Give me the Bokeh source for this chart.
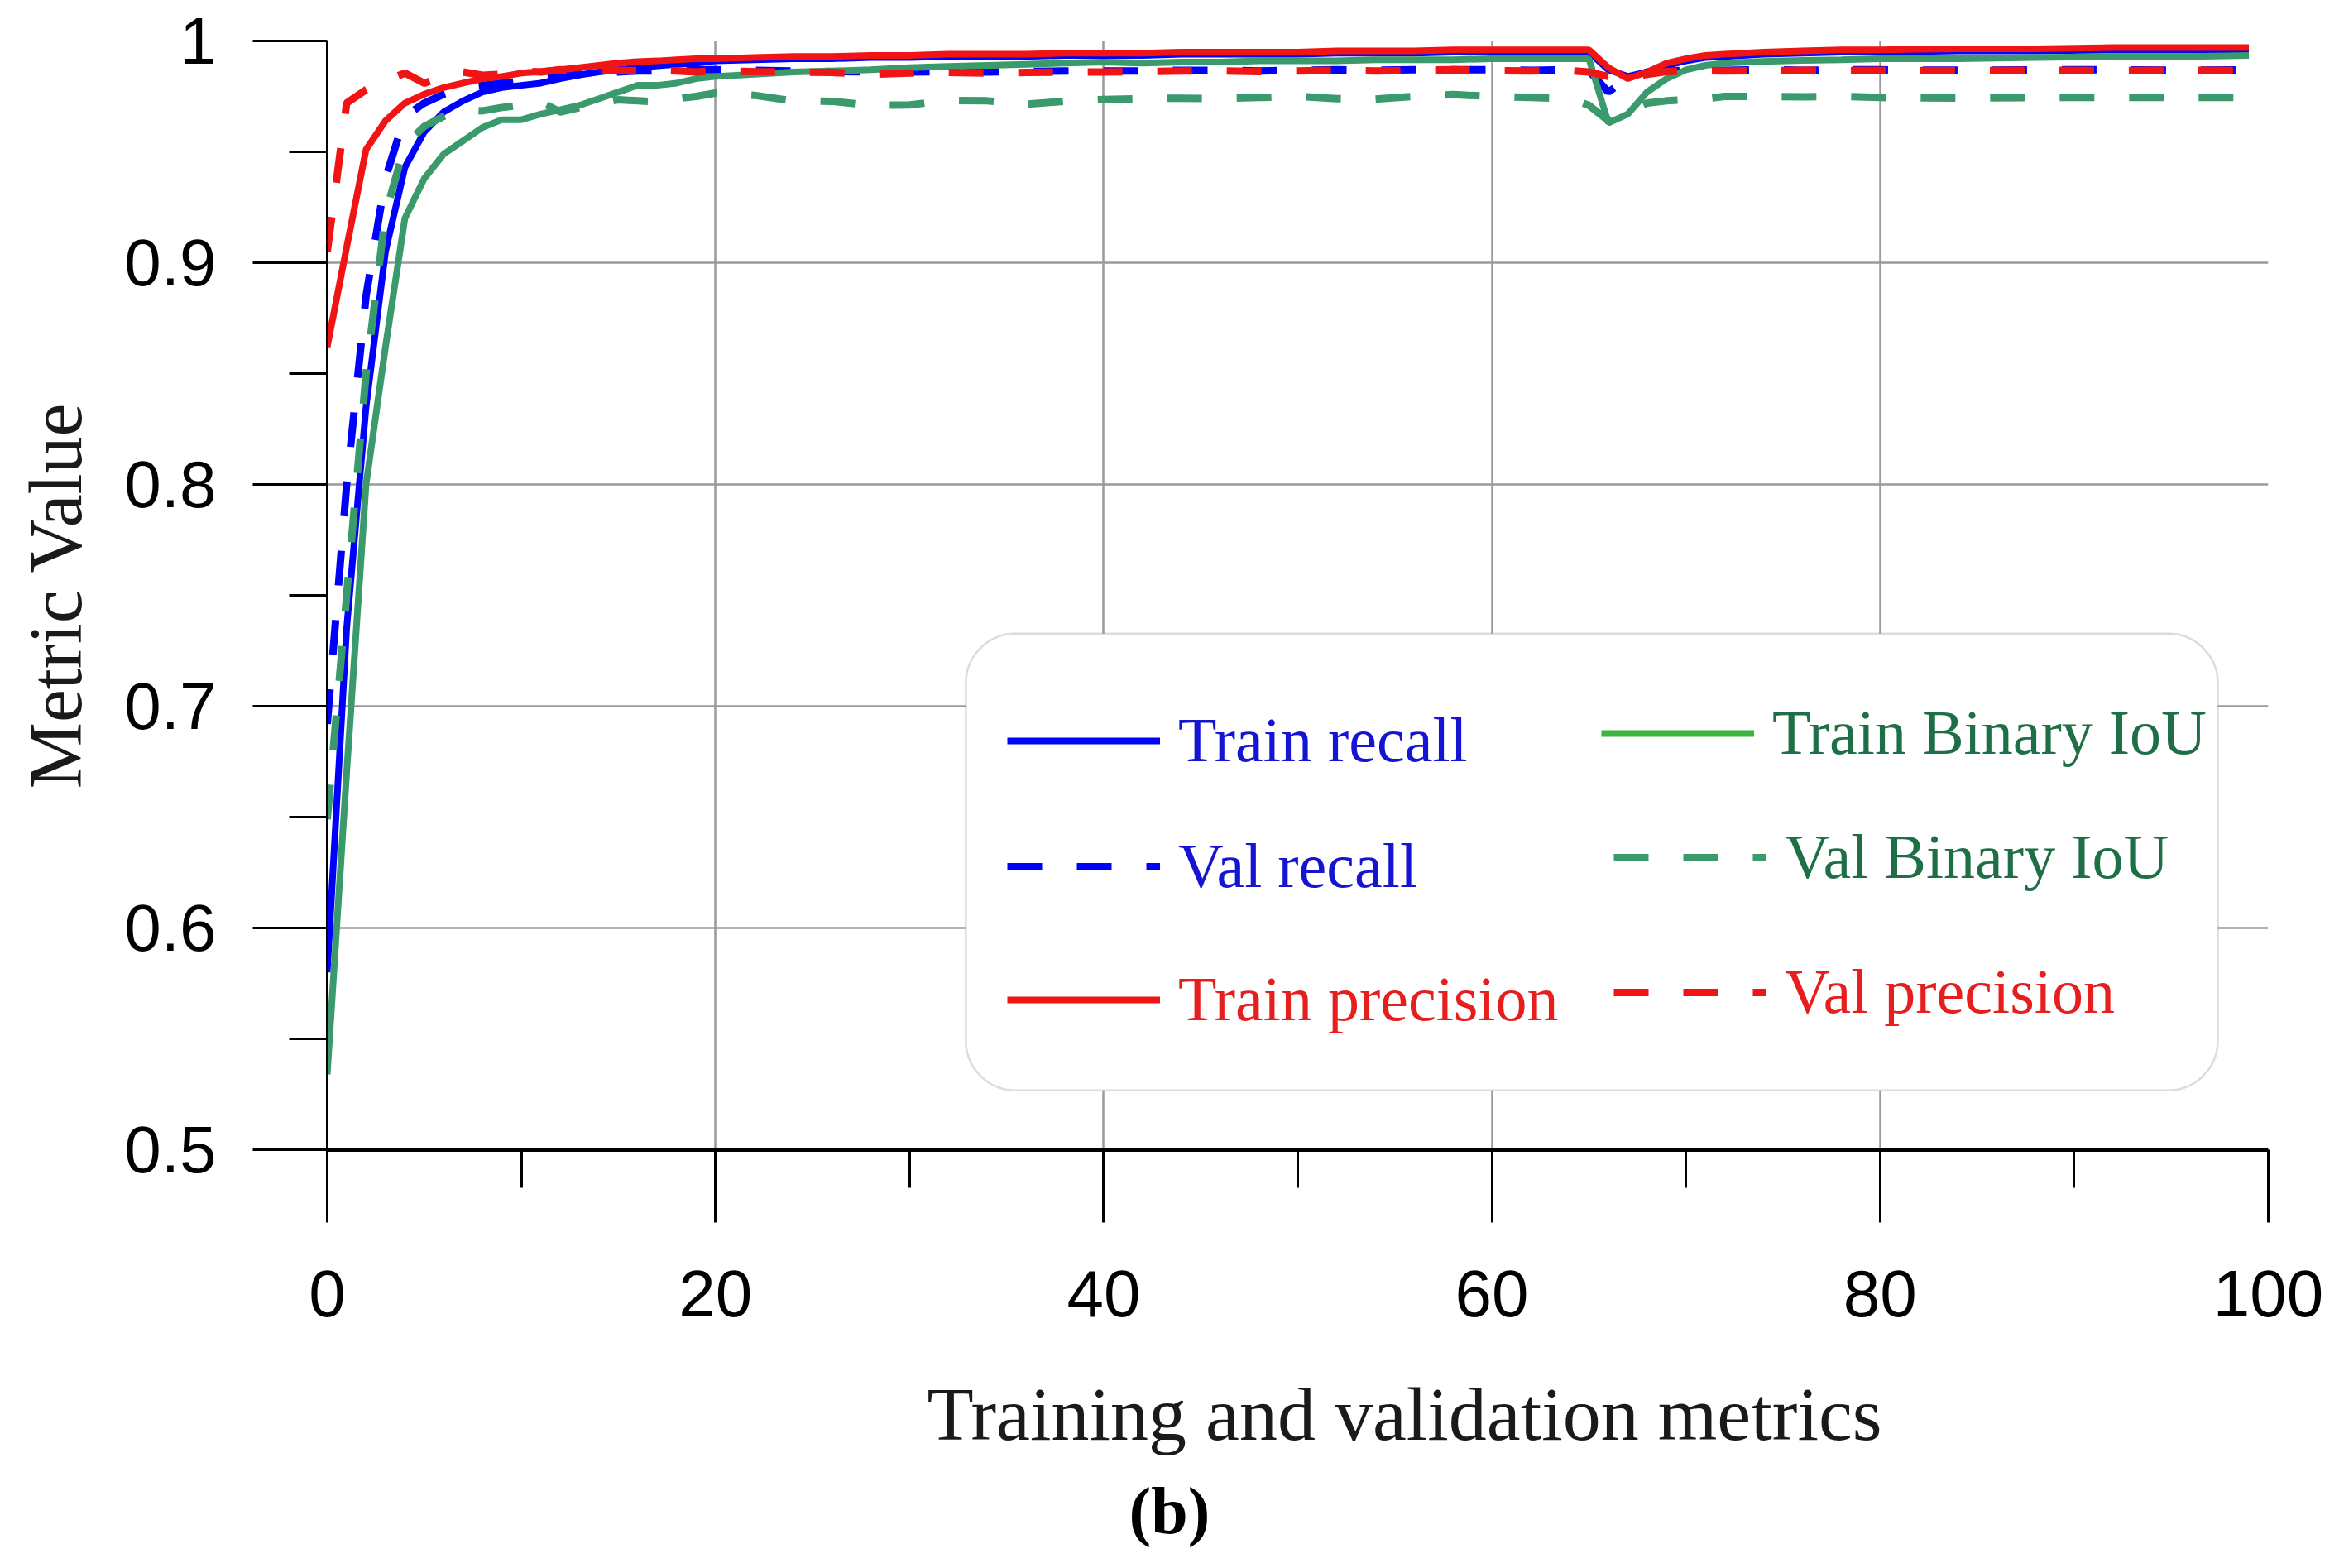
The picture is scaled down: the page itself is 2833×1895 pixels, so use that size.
from bokeh.plotting import figure
from bokeh.models import (Range1d, FixedTicker, CustomJSTickFormatter, Legend, LegendItem,
                          BoxAnnotation, Title, LinearAxis)
from bokeh.embed import file_html
from bokeh.resources import INLINE


# epochs (denser where the curves move)
epochs = [0, 1, 2, 3, 4, 5, 6, 7, 8, 9, 10, 11, 12, 13, 14, 15, 16, 17, 18, 19, 20,
          22, 24, 26, 28, 30, 32, 34, 36, 38, 40, 42, 44, 46, 48, 50, 52, 54, 56, 58, 60, 62, 64,
          65, 66, 67, 68, 69, 70, 71, 72,
          74, 76, 78, 80, 84, 88, 92, 96, 99]

train_recall = [0.580, 0.735, 0.835, 0.905, 0.943, 0.959, 0.968, 0.973, 0.977, 0.979, 0.980,
                0.981, 0.983, 0.9847, 0.986, 0.987, 0.988, 0.9888, 0.9895, 0.990, 0.991,
                0.9915, 0.992, 0.992, 0.9925, 0.9925, 0.993, 0.993, 0.993, 0.9935, 0.9935, 0.9935,
                0.994, 0.994, 0.994, 0.994, 0.9945, 0.9945, 0.9945, 0.995, 0.995, 0.995, 0.995,
                0.995, 0.987, 0.984, 0.986, 0.989, 0.991, 0.9925, 0.993,
                0.994, 0.9945, 0.995, 0.995, 0.9955, 0.9955, 0.996, 0.996, 0.996]

val_recall = [0.692, 0.800, 0.885, 0.938, 0.966, 0.972, 0.976, 0.979, 0.980, 0.981, 0.982,
              0.983, 0.984, 0.985, 0.986, 0.986, 0.9865, 0.9865, 0.9868, 0.987, 0.987,
              0.9868, 0.9865, 0.9862, 0.986, 0.986, 0.9862, 0.986, 0.9862, 0.9865, 0.9865, 0.9865,
              0.9868, 0.9868, 0.9865, 0.9868, 0.987, 0.9868, 0.987, 0.987, 0.987, 0.9868, 0.987,
              0.9865, 0.977, 0.983, 0.986, 0.9865, 0.9868, 0.9868, 0.9868,
              0.987, 0.9868, 0.987, 0.987, 0.9868, 0.987, 0.987, 0.9868, 0.987]

train_precision = [0.862, 0.907, 0.951, 0.964, 0.972, 0.976, 0.979, 0.981, 0.983, 0.984, 0.9855,
                   0.9862, 0.987, 0.988, 0.989, 0.990, 0.9907, 0.991, 0.9915, 0.992, 0.992,
                   0.9925, 0.993, 0.993, 0.9935, 0.9935, 0.994, 0.994, 0.994, 0.9945, 0.9945, 0.9945,
                   0.995, 0.995, 0.995, 0.995, 0.9955, 0.9955, 0.9955, 0.996, 0.996, 0.996, 0.996,
                   0.996, 0.988, 0.983, 0.986, 0.990, 0.992, 0.9935, 0.994,
                   0.995, 0.9955, 0.996, 0.996, 0.9965, 0.9965, 0.997, 0.997, 0.997]

val_precision = [0.905, 0.972, 0.978, 0.982, 0.9855, 0.981, 0.984, 0.986, 0.9845, 0.985, 0.9865,
                 0.986, 0.987, 0.9865, 0.987, 0.9868, 0.9865, 0.9868, 0.9865, 0.986, 0.9865,
                 0.9862, 0.986, 0.9858, 0.985, 0.9855, 0.9858, 0.9855, 0.9858, 0.986, 0.986, 0.9862,
                 0.9865, 0.9865, 0.9862, 0.9865, 0.9868, 0.9865, 0.9868, 0.987, 0.9866, 0.9865, 0.9866,
                 0.986, 0.984, 0.983, 0.985, 0.9862, 0.9866, 0.9866, 0.9865,
                 0.9866, 0.9868, 0.9866, 0.9868, 0.9866, 0.9868, 0.9866, 0.9868, 0.9866]

train_iou = [0.534, 0.670, 0.800, 0.862, 0.920, 0.938, 0.949, 0.955, 0.961, 0.9645, 0.9645,
             0.967, 0.969, 0.971, 0.974, 0.977, 0.980, 0.980, 0.981, 0.983, 0.984,
             0.985, 0.986, 0.9865, 0.987, 0.988, 0.9885, 0.989, 0.9895, 0.990, 0.9905, 0.990,
             0.9905, 0.9905, 0.991, 0.991, 0.991, 0.9915, 0.9915, 0.9915, 0.992, 0.992, 0.992,
             0.992, 0.963, 0.967, 0.977, 0.983, 0.987, 0.989, 0.990,
             0.9908, 0.9912, 0.9915, 0.992, 0.992, 0.9925, 0.993, 0.993, 0.9935]

val_iou = [0.649, 0.750, 0.850, 0.922, 0.953, 0.9615, 0.966, 0.969, 0.9685, 0.970, 0.971,
           0.9725, 0.968, 0.970, 0.972, 0.9735, 0.973, 0.9725, 0.974, 0.975, 0.9765,
           0.9755, 0.973, 0.9728, 0.971, 0.9712, 0.9732, 0.973, 0.9715, 0.9728, 0.9736, 0.974,
           0.9742, 0.974, 0.9745, 0.975, 0.974, 0.9738, 0.975, 0.9758, 0.975, 0.9745, 0.974,
           0.971, 0.964, 0.968, 0.972, 0.973, 0.9735, 0.974, 0.975,
           0.975, 0.9748, 0.975, 0.9745, 0.9742, 0.9745, 0.9745, 0.9745, 0.9745]

x_ticks = [0, 20, 40, 60, 80, 100]
x_minor = [10, 30, 50, 70, 90]
y_ticks = [0.5, 0.6, 0.7, 0.8, 0.9, 1.0]
y_minor = [0.55, 0.65, 0.75, 0.85, 0.95]

BLUE = "#0000ff"
RED = "#f01414"
GREEN = "#3a9a6c"
BRIGHT_GREEN = "#3cb440"
DASH = "42 42"


p = figure(width=2817, height=1879, output_backend="svg", toolbar_location=None,
           x_range=Range1d(0, 100), y_range=Range1d(0.5, 1.0),
           min_border_left=395, min_border_right=76, min_border_top=49, min_border_bottom=490)
p.outline_line_color = None
p.background_fill_color = "white"
p.border_fill_color = "white"

#axes
xt = FixedTicker(ticks=x_ticks, minor_ticks=x_minor)
yt = FixedTicker(ticks=y_ticks, minor_ticks=y_minor)
p.xaxis.ticker = xt
p.yaxis.ticker = yt
p.xgrid.ticker = xt
p.ygrid.ticker = yt
p.yaxis.formatter = CustomJSTickFormatter(code="return String(Math.round(tick * 10) / 10)")

for ax in (p.xaxis, p.yaxis):
    ax.axis_line_color = "black"
    ax.major_tick_line_color = "black"
    ax.minor_tick_line_color = "black"
    ax.major_tick_line_width = 3
    ax.minor_tick_line_width = 3
    ax.major_tick_in = 0
    ax.minor_tick_in = 0
    ax.major_label_text_font = "Liberation Sans"
    ax.major_label_text_font_size = "80px"
    ax.major_label_text_color = "black"

p.xaxis.axis_line_width = 5
p.yaxis.axis_line_width = 3
p.xaxis.major_tick_out = 88
p.xaxis.minor_tick_out = 46
p.yaxis.major_tick_out = 90
p.yaxis.minor_tick_out = 46
p.xaxis.major_label_standoff = 58
p.yaxis.major_label_standoff = 44

p.yaxis.axis_label = "Metric Value"
p.yaxis.axis_label_text_font = "Liberation Serif"
p.yaxis.axis_label_text_font_size = "90px"
p.yaxis.axis_label_text_font_style = "normal"
p.yaxis.axis_label_text_color = "#1a1a1a"
p.yaxis.axis_label_standoff = 30

p.grid.grid_line_color = "#9a9a9a"
p.grid.grid_line_width = 2.5

#curves
r_train_recall = p.line(epochs, train_recall, line_color=BLUE, line_width=8)
r_val_recall = p.line(epochs, val_recall, line_color=BLUE, line_width=9, line_dash=DASH)
r_train_iou = p.line(epochs, train_iou, line_color=GREEN, line_width=8)
r_val_iou = p.line(epochs, val_iou, line_color=GREEN, line_width=9, line_dash=DASH)
r_train_prec = p.line(epochs, train_precision, line_color=RED, line_width=8)
r_val_prec = p.line(epochs, val_precision, line_color=RED, line_width=9, line_dash=DASH)
# legend swatch only (the key shows a lighter green), draws nothing in the plot
r_iou_key = p.line(epochs[:1], [float("nan")], line_color=BRIGHT_GREEN, line_width=8)

#legend frame
p.add_layout(BoxAnnotation(left=32.9, right=97.4, bottom=0.5268, top=0.7327,
                           fill_color="white", fill_alpha=1.0, line_color="#8c8c8c",
                           line_width=2.5, border_radius=60))


def add_key(renderer, label, color, x, y):
    leg = Legend(items=[LegendItem(label=label, renderers=[renderer])], location=(x, y),
                 padding=0, margin=0, spacing=0, border_line_color=None,
                 background_fill_alpha=0, glyph_width=185, glyph_height=40, label_standoff=22,
                 label_text_font="Liberation Serif", label_text_font_size="76px",
                 label_text_color=color)
    p.add_layout(leg, "center")


add_key(r_train_recall, "Train recall", "#1414d2", 822, 451)
add_key(r_val_recall, "Val recall", "#1414d2", 822, 299)
add_key(r_train_prec, "Train precision", "#e61e1e", 822, 138)
add_key(r_iou_key, "Train Binary IoU", "#1e6e46", 1540, 460)
add_key(r_val_iou, "Val Binary IoU", "#1e6e46", 1555, 310)
add_key(r_val_prec, "Val precision", "#e61e1e", 1555, 147)

#blank axis under the real one (white tick on white, no label): leaves a gap before the labels
gap = LinearAxis(ticker=FixedTicker(ticks=[50]), major_tick_out=42, minor_tick_out=0,
                 major_label_standoff=0, major_label_text_font_size="1px",
                 formatter=CustomJSTickFormatter(code="return ''"),
                 axis_line_color=None, major_tick_line_color="white", minor_tick_line_color=None)
p.add_layout(gap, "below")

p.add_layout(Title(text="Training and validation metrics", align="left", offset=725,
                   text_font="Liberation Serif", text_font_size="92px", text_font_style="normal",
                   text_color="#1a1a1a", standoff=40), "below")
p.add_layout(Title(text="(b)", align="left", offset=969, text_font="Liberation Serif",
                   text_font_size="80px", text_font_style="bold", text_color="black",
                   standoff=0), "below")

open("out.html", "w").write(file_html(p, INLINE))
